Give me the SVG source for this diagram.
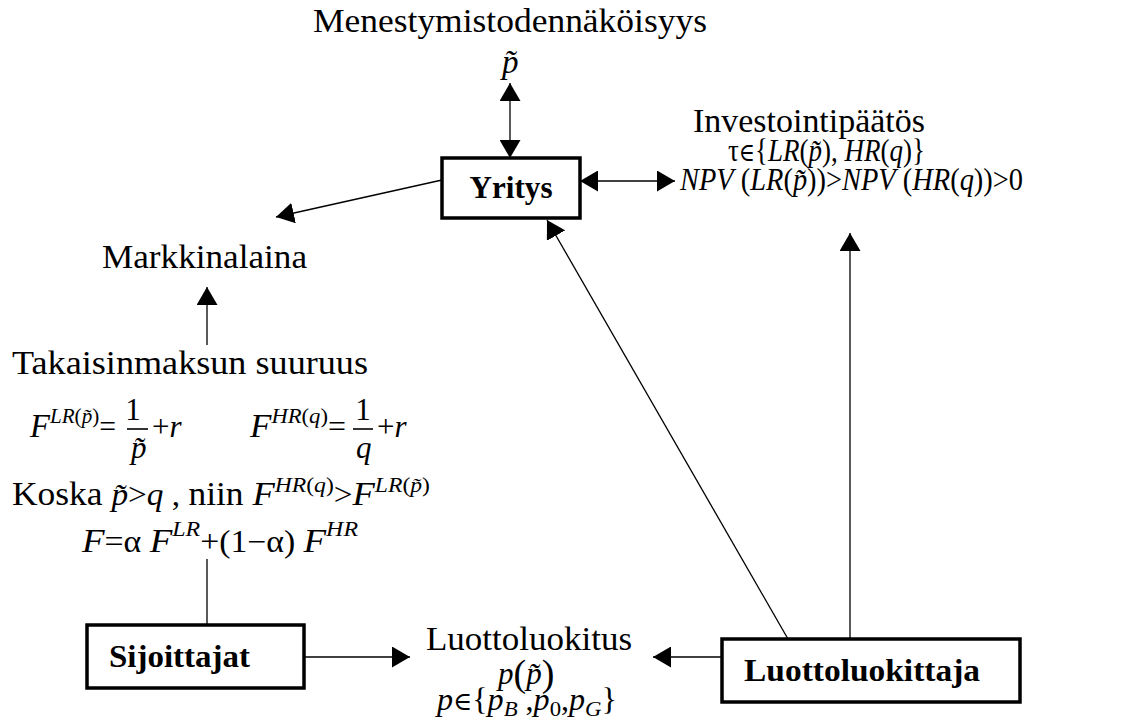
<svg xmlns="http://www.w3.org/2000/svg" width="1130" height="722" viewBox="0 0 1130 722">
<style>
text{font-family:"Liberation Serif","DejaVu Serif",serif;fill:#000}
.t{font-size:33px}
.b{font-size:32px;font-weight:bold}
.u{font-size:31px;font-style:normal}
.m{font-size:31px;font-style:italic}
.F{font-size:34px;font-style:italic}
.s{font-size:22px;font-style:italic}
.su{font-size:22px;font-style:normal}
.el{font-size:25px;font-style:normal}
.bp{font-size:38px;font-style:normal}
.box{fill:#fff;stroke:#000;stroke-width:3.5}
.ln{stroke:#000;stroke-width:1.3;fill:none}
.bar{stroke:#000;stroke-width:1.6}
</style>
<defs>
<marker id="ah" markerUnits="userSpaceOnUse" markerWidth="18" markerHeight="21" refX="18" refY="10.5" orient="auto-start-reverse">
<path d="M0,0 L18,10.5 L0,21 z" fill="#000"/>
</marker>
</defs>

<g id="connectors">
<line class="ln" x1="510" y1="83" x2="510" y2="158" marker-start="url(#ah)" marker-end="url(#ah)"/>
<line class="ln" x1="580" y1="181" x2="675" y2="181" marker-start="url(#ah)" marker-end="url(#ah)"/>
<line class="ln" x1="442" y1="180" x2="276" y2="217" marker-end="url(#ah)"/>
<line class="ln" x1="207" y1="345" x2="207" y2="287" marker-end="url(#ah)"/>
<line class="ln" x1="207" y1="559" x2="207" y2="625"/>
<line class="ln" x1="304" y1="657" x2="410" y2="657" marker-end="url(#ah)"/>
<line class="ln" x1="722" y1="657" x2="653" y2="657" marker-end="url(#ah)"/>
<line class="ln" x1="850" y1="639" x2="850" y2="233" marker-end="url(#ah)"/>
<line class="ln" x1="788" y1="639" x2="547" y2="220" marker-end="url(#ah)"/>
</g>

<g id="menestymis">
<text class="t" x="510" y="32" text-anchor="middle" textLength="394" lengthAdjust="spacingAndGlyphs">Menestymistodennäköisyys</text>
<text class="m" x="502" y="73" style="font-size:33px">p&#x303;</text>
</g>

<g id="yritys">
<rect class="box" x="442" y="158" width="138" height="60"/>
<text class="b" x="511" y="198" text-anchor="middle" textLength="83" lengthAdjust="spacingAndGlyphs">Yritys</text>
</g>

<g id="investointi">
<text class="t" x="693" y="132" textLength="232" lengthAdjust="spacingAndGlyphs">Investointipäätös</text>
<text class="u" x="728" y="161" textLength="197" lengthAdjust="spacingAndGlyphs">τ<tspan class="el">∈</tspan>{<tspan class="m">LR</tspan>(<tspan class="m">p&#x303;</tspan>), <tspan class="m">HR</tspan>(<tspan class="m">q</tspan>)}</text>
<text class="u" x="680" y="190" textLength="343" lengthAdjust="spacingAndGlyphs"><tspan class="m">NPV</tspan> (<tspan class="m">LR</tspan>(<tspan class="m">p&#x303;</tspan>))&gt;<tspan class="m">NPV</tspan> (<tspan class="m">HR</tspan>(<tspan class="m">q</tspan>))&gt;0</text>
</g>

<g id="markkinalaina">
<text class="t" x="102" y="268" textLength="205" lengthAdjust="spacingAndGlyphs">Markkinalaina</text>
</g>

<g id="takaisinmaksu">
<text class="t" x="12" y="374" textLength="356" lengthAdjust="spacingAndGlyphs">Takaisinmaksun suuruus</text>

<text class="u" x="30" y="437" textLength="86" lengthAdjust="spacingAndGlyphs"><tspan class="F">F</tspan><tspan class="s" dy="-14">LR</tspan><tspan class="su">(</tspan><tspan class="s">p&#x303;</tspan><tspan class="su">)</tspan><tspan dy="14">=</tspan></text>
<text class="u" x="133" y="420" text-anchor="middle">1</text>
<line class="bar" x1="127" y1="429" x2="148" y2="429"/>
<text class="m" x="131" y="458">p&#x303;</text>
<text class="u" x="152" y="437">+<tspan class="m">r</tspan></text>

<text class="u" x="250" y="437" textLength="96" lengthAdjust="spacingAndGlyphs"><tspan class="F">F</tspan><tspan class="s" dy="-14">HR</tspan><tspan class="su">(</tspan><tspan class="s">q</tspan><tspan class="su">)</tspan><tspan dy="14">=</tspan></text>
<text class="u" x="363" y="420" text-anchor="middle">1</text>
<line class="bar" x1="353" y1="429" x2="373" y2="429"/>
<text class="m" x="356" y="458">q</text>
<text class="u" x="377" y="437">+<tspan class="m">r</tspan></text>

<text class="u" x="12" y="505" textLength="418" lengthAdjust="spacingAndGlyphs"><tspan class="t">Koska </tspan><tspan class="m">p&#x303;</tspan>&gt;<tspan class="m">q</tspan> , <tspan class="t">niin </tspan><tspan class="F">F</tspan><tspan class="s" dy="-13">HR</tspan><tspan class="su">(</tspan><tspan class="s">q</tspan><tspan class="su">)</tspan><tspan dy="13">&gt;</tspan><tspan class="F">F</tspan><tspan class="s" dy="-13">LR</tspan><tspan class="su">(</tspan><tspan class="s">p&#x303;</tspan><tspan class="su">)</tspan></text>

<text class="u" x="82" y="552" textLength="276" lengthAdjust="spacingAndGlyphs"><tspan class="F">F</tspan>=α <tspan class="F">F</tspan><tspan class="s" dy="-16">LR</tspan><tspan dy="16">+(1−α) </tspan><tspan class="F">F</tspan><tspan class="s" dy="-16">HR</tspan></text>
</g>

<g id="sijoittajat">
<rect class="box" x="87" y="625" width="217" height="63"/>
<text class="b" x="109" y="667" textLength="141" lengthAdjust="spacingAndGlyphs">Sijoittajat</text>
</g>

<g id="luottoluokitus">
<text class="t" x="529" y="650" text-anchor="middle" textLength="206" lengthAdjust="spacingAndGlyphs">Luottoluokitus</text>
<text class="u" x="498" y="684"><tspan class="m">p</tspan><tspan class="bp" dy="2">(</tspan><tspan class="m" dy="-2">p&#x303;</tspan><tspan class="bp" dy="2">)</tspan></text>
<text class="u" x="437" y="710" textLength="180" lengthAdjust="spacingAndGlyphs"><tspan class="m">p</tspan><tspan class="el">∈</tspan>{<tspan class="m">p</tspan><tspan class="s" dy="6">B</tspan><tspan dy="-6"> ,</tspan><tspan class="m">p</tspan><tspan class="su" dy="6">0</tspan><tspan dy="-6">,</tspan><tspan class="m">p</tspan><tspan class="s" dy="6">G</tspan><tspan dy="-6">}</tspan></text>
</g>

<g id="luottoluokittaja">
<rect class="box" x="722" y="639" width="298" height="63"/>
<text class="b" x="744" y="681" textLength="236" lengthAdjust="spacingAndGlyphs">Luottoluokittaja</text>
</g>
</svg>
